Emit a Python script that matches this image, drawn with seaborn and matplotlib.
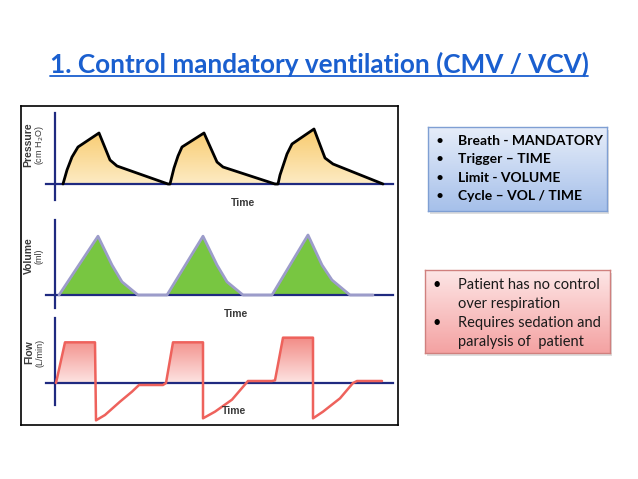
import numpy as np
import seaborn as sns
import matplotlib.pyplot as plt
from matplotlib.colors import LinearSegmentedColormap
from matplotlib.lines import Line2D
from matplotlib.patches import Rectangle, PathPatch
from matplotlib.path import Path

# waveform data (time in arbitrary units)
press_t = [0.8, 1.0, 1.2, 1.7, 2.3, 4.4, 5.5, 6.2, 11.3,
           11.5, 11.7, 11.9, 12.3, 12.7, 14.9, 16.2, 16.8, 22.0,
           22.3, 22.5, 22.8, 23.2, 23.7, 25.9, 27.0, 27.8, 32.8]
press_v = [0, 3.5, 7, 13.5, 18.5, 25.5, 12, 9, 0,
           0, 4, 8, 14, 18.5, 25.5, 11, 8.5, 0,
           0, 4.5, 9, 15, 20, 27.5, 13, 10, 0]

vol_t = [0.4, 4.3, 5.7, 6.7, 8.3, 11.0,
         11.2, 14.8, 16.2, 17.2, 18.8, 21.5,
         21.7, 25.3, 26.7, 27.7, 29.5, 31.8]
vol_v = [0, 490, 250, 110, 0, 0,
         0, 490, 250, 110, 0, 0,
         0, 500, 250, 125, 0, 0]

flow_t = [0.1, 1.0, 4.0, 4.1, 5.0, 6.5, 7.7, 8.4, 10.8,
          11.1, 11.8, 14.8, 14.8, 16.0, 17.7, 19.3, 21.7,
          22.0, 22.8, 25.8, 25.8, 26.8, 28.5, 29.8, 30.2, 32.7]
flow_v = [0, 61, 61, -56, -48, -28, -13, -3, -3,
          0, 61, 61, -53, -43, -25, 3, 3,
          4, 68, 68, -53, -43, -23, 0, 3, 3]

title = "1. Control mandatory ventilation (CMV / VCV)"
box1_lines = ["Breath - MANDATORY", "Trigger \u2013 TIME", "Limit - VOLUME", "Cycle \u2013 VOL / TIME"]
box2_lines = [("\u2022", "Patient has no control"), ("", "over respiration"),
              ("\u2022", "Requires sedation and"), ("", "paralysis of  patient")]

W, H = 638, 479
sns.set_theme(style="white")
plt.rcParams['font.family'] = ['Lato', 'DejaVu Sans']

fig = plt.figure(figsize=(W / 100, H / 100), dpi=100)


def px_axes(x0, y0, x1, y1, **kw):
    return fig.add_axes([x0 / W, 1 - y1 / H, (x1 - x0) / W, (y1 - y0) / H], **kw)


def fx(x):
    return x / W


def fy(y):
    return 1 - y / H


AXC = "#1f2a80"


def setup_panel(ax, ylim, ybounds=None):
    ax.set_xlim(-0.9, 33.8)
    ax.set_ylim(*ylim)
    ax.patch.set_alpha(0)
    ax.spines['top'].set_visible(False)
    ax.spines['right'].set_visible(False)
    ax.spines['left'].set_position(('data', 0))
    ax.spines['bottom'].set_position(('data', 0))
    for s in ('left', 'bottom'):
        ax.spines[s].set_color(AXC)
        ax.spines[s].set_linewidth(1.6)
    if ybounds:
        ax.spines['left'].set_bounds(*ybounds)
    ax.set_xticks([])
    ax.set_yticks([])
    ax.set_xlabel("")
    ax.set_ylabel("")


def grad_fill(ax, coll, top_col, bot_col):
    paths = coll.get_paths()
    coll.remove()
    cpath = Path.make_compound_path(*paths)
    patch = PathPatch(cpath, transform=ax.transData, facecolor='none', edgecolor='none')
    ax.add_patch(patch)
    cmap = LinearSegmentedColormap.from_list('g', [bot_col, top_col])
    grad = np.linspace(0, 1, 256).reshape(-1, 1)
    x0, x1 = ax.get_xlim()
    y0, y1 = ax.get_ylim()
    top = max(p.vertices[:, 1].max() for p in paths)
    im = ax.imshow(grad, cmap=cmap, origin='lower', aspect='auto',
                   extent=[x0, x1, 0, top], zorder=1)
    im.set_clip_path(patch)
    ax.set_xlim(x0, x1)
    ax.set_ylim(y0, y1)


# outer frame
frame = px_axes(21, 106, 398, 425)
frame.set_xticks([])
frame.set_yticks([])
frame.patch.set_facecolor('white')
for s in frame.spines.values():
    s.set_color('black')
    s.set_linewidth(1.2)

# pressure
ax1 = px_axes(46, 113, 393, 200)
setup_panel(ax1, (-8, 35.5))
c = ax1.fill_between(press_t, 0, press_v, color='#fbd88e', lw=0)
grad_fill(ax1, c, '#f8cb6e', '#fdebc4')
sns.lineplot(x=press_t, y=press_v, sort=False, estimator=None, ax=ax1,
             color='black', lw=2, zorder=3)
setup_panel(ax1, (-8, 35.5))

# volume
ax2 = px_axes(46, 220, 393, 308)
setup_panel(ax2, (-108, 625))
ax2.fill_between(vol_t, 0, vol_v, color='#78c641', lw=0, zorder=1)
sns.lineplot(x=vol_t, y=vol_v, sort=False, estimator=None, ax=ax2,
             color='#9c9cca', lw=2, zorder=3)
setup_panel(ax2, (-108, 625))

# flow
flow_arr = np.array(flow_v)
ax3 = px_axes(46, 318, 393, 425)
setup_panel(ax3, (-63, 97.5), (-33, 97.5))
c = ax3.fill_between(flow_t, 0, flow_v, where=flow_arr >= 0, color='#f6a8a4', lw=0)
grad_fill(ax3, c, '#f28b86', '#fde4e2')
sns.lineplot(x=flow_t, y=flow_v, sort=False, estimator=None, ax=ax3,
             color='#ee625c', lw=1.8, zorder=3)
setup_panel(ax3, (-63, 97.5), (-33, 97.5))

# axis labels
lab_kw = dict(rotation=90, ha='center', va='center', color='#3a3a3a',
              family=['Liberation Sans', 'DejaVu Sans'])
fig.text(fx(28), fy(145), "Pressure", fontsize=7.5, weight='bold', **lab_kw)
fig.text(fx(39), fy(145), "(cm H$_2$O)", fontsize=6.5, **lab_kw)
fig.text(fx(29), fy(256), "Volume", fontsize=7.5, weight='bold', **lab_kw)
fig.text(fx(39), fy(256), "(ml)", fontsize=6.5, **lab_kw)
fig.text(fx(29), fy(352), "Flow", fontsize=7.5, weight='bold', **lab_kw)
fig.text(fx(40), fy(353), "(L/min)", fontsize=6.5, **lab_kw)
time_kw = dict(ha='center', va='center', color='#3a3a3a', fontsize=7.5, weight='bold',
               family=['Liberation Sans', 'DejaVu Sans'])
fig.text(fx(243), fy(203), "Time", **time_kw)
fig.text(fx(236), fy(314), "Time", **time_kw)
fig.text(fx(234), fy(411), "Time", **time_kw)


def text_box(x0, y0, x1, y1, top_col, bot_col, edge):
    fig.add_artist(Rectangle((fx(x0 + 2), fy(y1 + 3)), (x1 - x0) / W, (y1 - y0) / H,
                             transform=fig.transFigure, facecolor='#c8c8c8',
                             edgecolor='none', alpha=0.6, zorder=0))
    bx = px_axes(x0, y0, x1, y1)
    cmap = LinearSegmentedColormap.from_list('b', [top_col, bot_col])
    bx.imshow(np.linspace(0, 1, 100).reshape(-1, 1), cmap=cmap, aspect='auto',
              extent=[0, 1, 0, 1], origin='upper')
    bx.set_xticks([])
    bx.set_yticks([])
    for s in bx.spines.values():
        s.set_color(edge)
        s.set_linewidth(1)
    return bx


text_box(428, 127, 607, 211, '#e6edf9', '#a6c0ea', '#7f9fd3')
for i, line in enumerate(box1_lines):
    y = 141 + i * 18.3
    fig.text(fx(440), fy(y), "\u2022", ha='center', va='center', fontsize=10, color='black')
    fig.text(fx(458), fy(y), line, ha='left', va='center', fontsize=10, weight='bold', color='black')

text_box(425, 270, 610, 353, '#fde6e6', '#f4a2a2', '#d0807e')
for i, (b, line) in enumerate(box2_lines):
    y = 285 + i * 19
    if b:
        fig.text(fx(437), fy(y), b, ha='center', va='center', fontsize=10.5, color='black')
    fig.text(fx(458), fy(y), line, ha='left', va='center', fontsize=10.5, color='#1a1a1a')

# title with underline
tt = fig.text(fx(319), fy(64), title, ha='center', va='center', fontsize=18.8,
              weight='bold', color='#1a5fcf')
fig.canvas.draw()
bb = tt.get_window_extent()
fig.add_artist(Line2D([bb.x0 / W, bb.x1 / W], [fy(76)] * 2, color='#1a5fcf', lw=1.3,
                      transform=fig.transFigure))

fig.savefig("out.png", dpi=100)
